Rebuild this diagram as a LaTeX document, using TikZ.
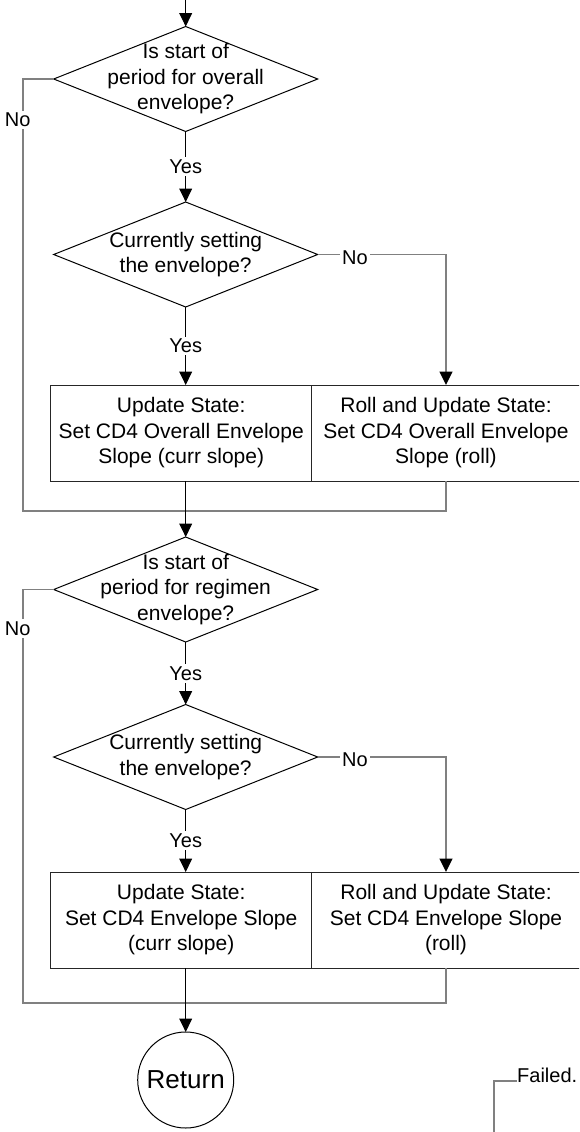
\documentclass[tikz,border=0pt]{standalone}
\usepackage{fontspec}
\setmainfont{Liberation Sans}
\usetikzlibrary{
  arrows.meta,
  positioning,
  shapes.geometric,
}
\tikzstyle{flowtext} = [
  font=\fontsize{21pt}{25.5pt}\selectfont,
  align=center,
]
\tikzstyle{decision} = [
  diamond,
  draw,
  line width=1pt,
  minimum width=264pt,
  minimum height=105pt,
  inner sep=0pt,
  outer sep=0pt,
]
\tikzstyle{statebox} = [
  flowtext,
  rectangle,
  draw=black!85,
  line width=1pt,
  minimum height=96pt,
  inner sep=0pt,
  outer sep=0pt,
]
\tikzstyle{arrow} = [
  -{Triangle[width=12.7pt, length=13.3pt]},
  line width=1pt,
]
\tikzstyle{sideline} = [
  line width=1.7pt,
  connectorgray,
]
\tikzstyle{sidearrow} = [
  sideline,
  -{Triangle[width=12.7pt, length=13.3pt, color=black]},
]
\tikzstyle{branch} = [
  font=\fontsize{20pt}{24pt}\selectfont,
  text=black,
  fill=white,
  inner sep=2.5pt,
]
\definecolor{connectorgray}{RGB}{128, 128, 128}

\begin{document}
\begin{tikzpicture}[x=1pt, y=-1pt]
      \useasboundingbox (0, 0) rectangle (579, 1132);
      \clip (0, 0) rectangle (579, 1132);

      % overall envelope
      \coordinate (start) at (185.7, -2);
      \node [decision, label={[flowtext]center:Is start of\\period for overall\\envelope?}] (overall) at (185.7, 79) {};
      \node [decision, label={[flowtext]center:Currently setting\\the envelope?}] (setting1) at (185.7, 254.5) {};
      \node [statebox, minimum width=261pt] (upd1) at (181.2, 433) {Update State:\\Set CD4 Overall Envelope\\Slope (curr slope)};
      \node [statebox, minimum width=268.6pt] (roll1) at (446, 433) {Roll and Update State:\\Set CD4 Overall Envelope\\Slope (roll)};
      \coordinate (join1) at (22.7, 510.7);

      % regimen envelope
      \node [decision, label={[flowtext]center:Is start of\\period for regimen\\envelope?}] (regimen) at (185.7, 589.5) {};
      \node [decision, label={[flowtext]center:Currently setting\\the envelope?}] (setting2) at (185.7, 757) {};
      \node [statebox, minimum width=261pt] (upd2) at (181.2, 920) {Update State:\\Set CD4 Envelope Slope\\(curr slope)};
      \node [statebox, minimum width=268.6pt] (roll2) at (446, 920) {Roll and Update State:\\Set CD4 Envelope Slope\\(roll)};
      \coordinate (join2) at (22.7, 1002.7);

      \node [circle, draw, line width=1pt, minimum size=96pt, inner sep=0pt, outer sep=0pt, font=\fontsize{26pt}{30pt}\selectfont] (ret) at (185.7, 1080) {Return};

      \node [branch, fill=none, anchor=south west, inner sep=0pt] (failed) at (517, 1082.5) {Failed.};
      \coordinate (failedin) at (494.3, 1140);

      % side branches
      \draw [sideline] (overall.west) -- (overall.west -| join1) -- node [branch, pos=0.095, xshift=-5pt] {No} (join1) -- (join1 -| roll1.south) -- (roll1.south);
      \draw [sidearrow] (setting1.east) -- node [branch, pos=0.29, yshift=-3pt] {No} (setting1.east -| roll1.north) -- (roll1.north);
      \draw [sideline] (regimen.west) -- (regimen.west -| join2) -- node [branch, pos=0.095, xshift=-5pt] {No} (join2) -- (join2 -| roll2.south) -- (roll2.south);
      \draw [sidearrow] (setting2.east) -- node [branch, pos=0.29, yshift=-3pt] {No} (setting2.east -| roll2.north) -- (roll2.north);
      \draw [sideline] (failedin) |- ([yshift=1.5pt]failed.south west);

      % main line
      \draw [arrow] (start) -- (overall);
      \draw [arrow] (overall) -- node [branch] {Yes} (setting1);
      \draw [arrow] (setting1) -- node [branch] {Yes} (setting1 |- upd1.north);
      \draw [arrow] (upd1.south -| overall) -- (regimen);
      \draw [arrow] (regimen) -- node [branch] {Yes} (setting2);
      \draw [arrow] (setting2) -- node [branch] {Yes} (setting2 |- upd2.north);
      \draw [arrow] (upd2.south -| overall) -- (ret);
    \end{tikzpicture}
\end{document}
